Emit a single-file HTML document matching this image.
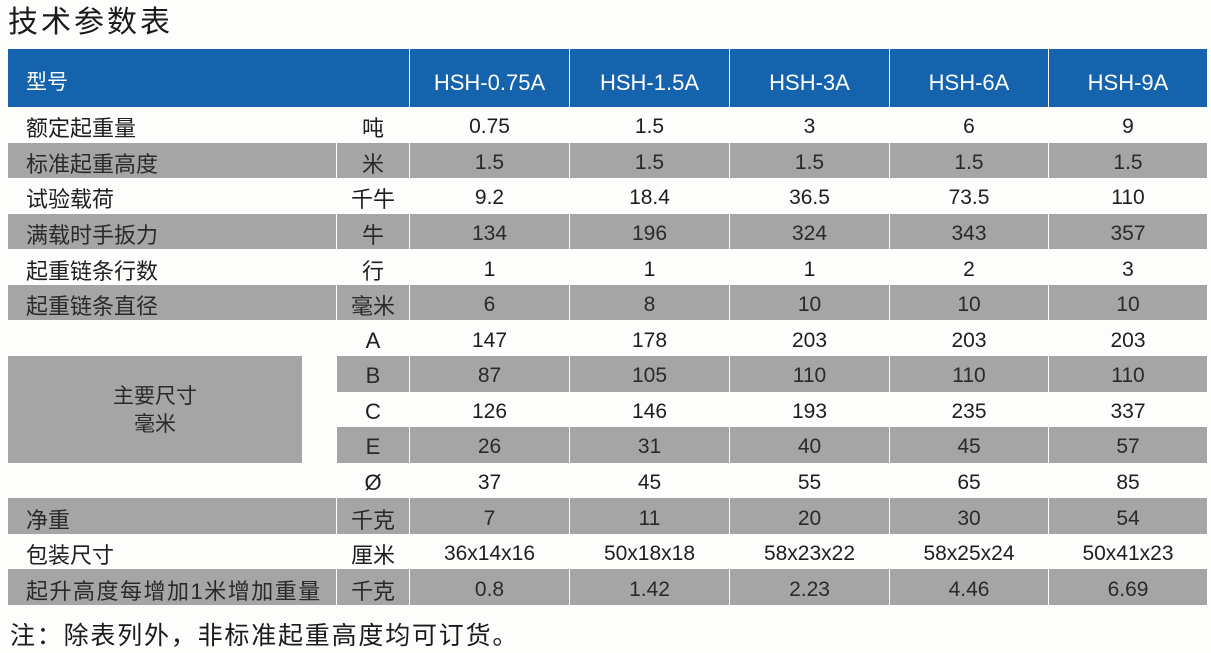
<!DOCTYPE html>
<html><head><meta charset="utf-8">
<style>
html,body{margin:0;padding:0;}
body{width:1211px;height:653px;background:#fdfdfb;position:relative;overflow:hidden;font-family:"Liberation Sans","Noto Sans CJK SC",sans-serif;color:#1e1e1e;}
.title{position:absolute;left:8px;top:4px;font-size:30px;letter-spacing:3px;line-height:38px;color:#1a1a1a;white-space:nowrap;}
.note{position:absolute;left:10px;top:620px;font-size:25px;letter-spacing:1.8px;line-height:32px;color:#1a1a1a;white-space:nowrap;}
.hdr{position:absolute;top:49px;height:58px;}
.hdr div{position:absolute;top:0;height:58px;background:#1663ad;color:#fff;text-align:center;line-height:58px;padding-top:5px;box-sizing:border-box;font-size:22px;white-space:nowrap;}
.hdr .h0{left:8px;width:401px;text-align:left;padding-left:18px;font-size:21px;}
.row{position:absolute;left:0;width:1211px;}
.cell{position:absolute;top:0;height:100%;text-align:center;box-sizing:border-box;padding-top:5px;font-size:21px;white-space:nowrap;display:flex;align-items:center;justify-content:center;}
.g .cell{background:#a5a5a5;color:#2a2a2a;}
.c0{left:8px;width:328px;justify-content:flex-start !important;padding-left:18px;font-size:22px !important;overflow:visible;}
.c1{left:337px;width:72px;font-size:22px !important;}
.c2{left:410px;width:159px;}
.c3{left:570px;width:159px;}
.c4{left:730px;width:159px;}
.c5{left:890px;width:158px;}
.c6{left:1049px;width:158px;}
.block{position:absolute;left:8px;top:356px;width:294px;height:107px;background:#a5a5a5;color:#2a2a2a;text-align:center;font-size:21px;line-height:28px;box-sizing:border-box;padding-top:27px;}
</style></head><body>
<div class="title">技术参数表</div>

<div class="hdr" style="left:0;width:1211px;">
  <div class="h0">型号</div>
  <div style="left:410px;width:159px;">HSH-0.75A</div>
  <div style="left:570px;width:159px;">HSH-1.5A</div>
  <div style="left:730px;width:159px;">HSH-3A</div>
  <div style="left:890px;width:158px;">HSH-6A</div>
  <div style="left:1049px;width:158px;">HSH-9A</div>
</div>

<div class="row" style="top:107px;height:35.6px;">
  <div class="cell c0">额定起重量</div><div class="cell c1">吨</div>
  <div class="cell c2">0.75</div><div class="cell c3">1.5</div><div class="cell c4">3</div><div class="cell c5">6</div><div class="cell c6">9</div>
</div>
<div class="row g" style="top:142.6px;height:35.5px;">
  <div class="cell c0">标准起重高度</div><div class="cell c1">米</div>
  <div class="cell c2">1.5</div><div class="cell c3">1.5</div><div class="cell c4">1.5</div><div class="cell c5">1.5</div><div class="cell c6">1.5</div>
</div>
<div class="row" style="top:178.1px;height:35.6px;">
  <div class="cell c0">试验载荷</div><div class="cell c1">千牛</div>
  <div class="cell c2">9.2</div><div class="cell c3">18.4</div><div class="cell c4">36.5</div><div class="cell c5">73.5</div><div class="cell c6">110</div>
</div>
<div class="row g" style="top:213.7px;height:35.6px;">
  <div class="cell c0">满载时手扳力</div><div class="cell c1">牛</div>
  <div class="cell c2">134</div><div class="cell c3">196</div><div class="cell c4">324</div><div class="cell c5">343</div><div class="cell c6">357</div>
</div>
<div class="row" style="top:249.3px;height:35.6px;">
  <div class="cell c0">起重链条行数</div><div class="cell c1">行</div>
  <div class="cell c2">1</div><div class="cell c3">1</div><div class="cell c4">1</div><div class="cell c5">2</div><div class="cell c6">3</div>
</div>
<div class="row g" style="top:284.9px;height:35.5px;">
  <div class="cell c0">起重链条直径</div><div class="cell c1">毫米</div>
  <div class="cell c2">6</div><div class="cell c3">8</div><div class="cell c4">10</div><div class="cell c5">10</div><div class="cell c6">10</div>
</div>
<div class="row" style="top:320.4px;height:35.6px;">
  <div class="cell c1">A</div>
  <div class="cell c2">147</div><div class="cell c3">178</div><div class="cell c4">203</div><div class="cell c5">203</div><div class="cell c6">203</div>
</div>
<div class="row g" style="top:356px;height:35.6px;">
  <div class="cell c1">B</div>
  <div class="cell c2">87</div><div class="cell c3">105</div><div class="cell c4">110</div><div class="cell c5">110</div><div class="cell c6">110</div>
</div>
<div class="row" style="top:391.6px;height:35.5px;">
  <div class="cell c1">C</div>
  <div class="cell c2">126</div><div class="cell c3">146</div><div class="cell c4">193</div><div class="cell c5">235</div><div class="cell c6">337</div>
</div>
<div class="row g" style="top:427.1px;height:35.6px;">
  <div class="cell c1">E</div>
  <div class="cell c2">26</div><div class="cell c3">31</div><div class="cell c4">40</div><div class="cell c5">45</div><div class="cell c6">57</div>
</div>
<div class="row" style="top:462.7px;height:35.6px;">
  <div class="cell c1">Ø</div>
  <div class="cell c2">37</div><div class="cell c3">45</div><div class="cell c4">55</div><div class="cell c5">65</div><div class="cell c6">85</div>
</div>
<div class="row g" style="top:498.3px;height:35.6px;">
  <div class="cell c0">净重</div><div class="cell c1">千克</div>
  <div class="cell c2">7</div><div class="cell c3">11</div><div class="cell c4">20</div><div class="cell c5">30</div><div class="cell c6">54</div>
</div>
<div class="row" style="top:533.9px;height:35.5px;">
  <div class="cell c0">包装尺寸</div><div class="cell c1">厘米</div>
  <div class="cell c2">36x14x16</div><div class="cell c3">50x18x18</div><div class="cell c4">58x23x22</div><div class="cell c5">58x25x24</div><div class="cell c6">50x41x23</div>
</div>
<div class="row g" style="top:569.4px;height:35.6px;">
  <div class="cell c0" style="letter-spacing:1.5px;">起升高度每增加1米增加重量</div><div class="cell c1">千克</div>
  <div class="cell c2">0.8</div><div class="cell c3">1.42</div><div class="cell c4">2.23</div><div class="cell c5">4.46</div><div class="cell c6">6.69</div>
</div>

<div class="block">主要尺寸<br>毫米</div>

<div class="note">注：除表列外，非标准起重高度均可订货。</div>
</body></html>
